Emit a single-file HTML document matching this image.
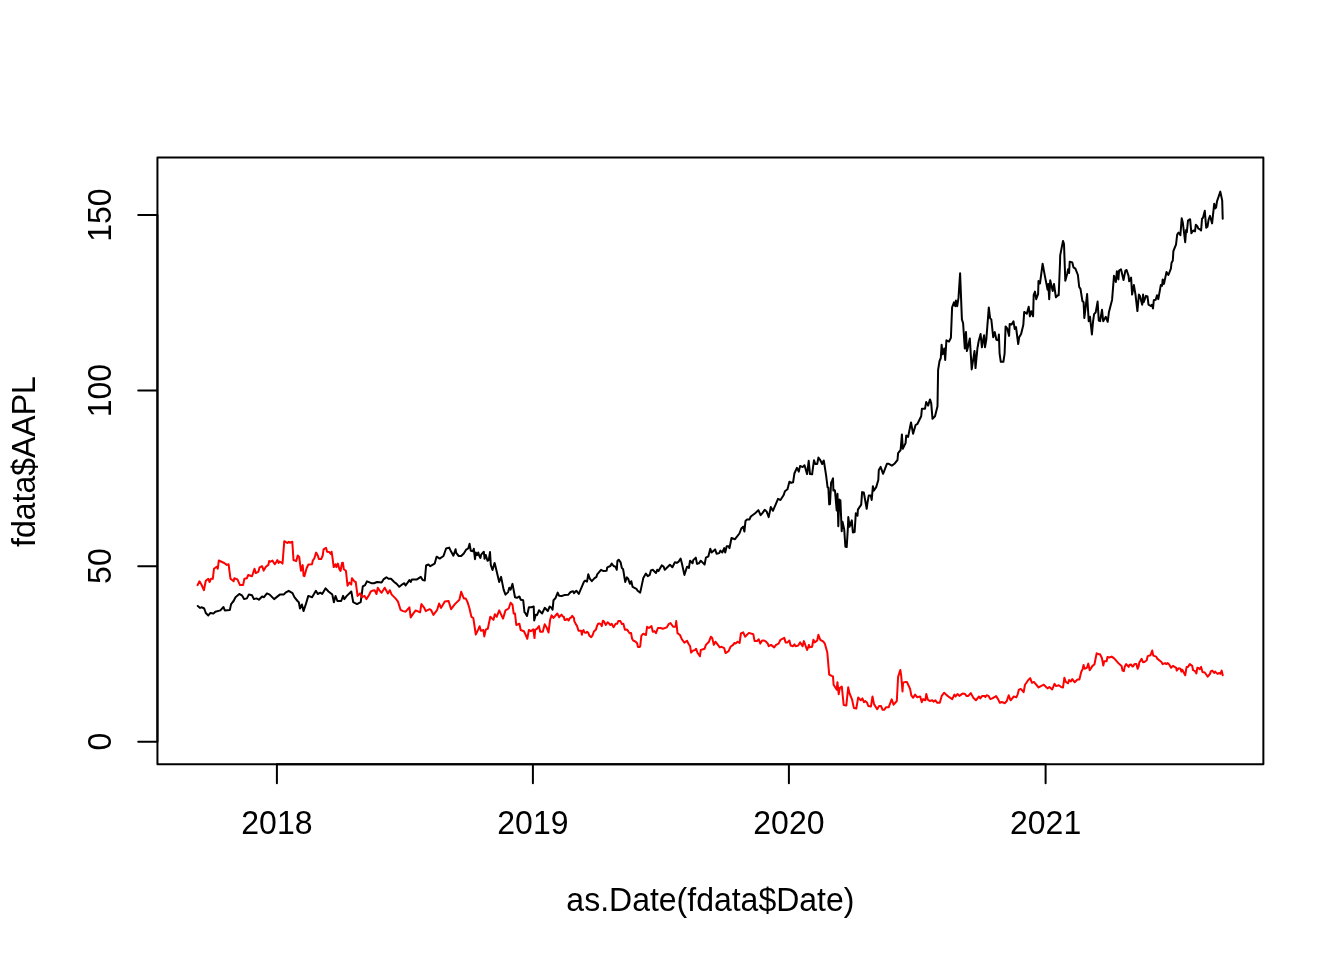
<!DOCTYPE html>
<html><head><meta charset="utf-8"><style>
html,body{margin:0;padding:0;background:#fff;}
svg{display:block;will-change:transform;}
text{font-family:"Liberation Sans",sans-serif;font-size:32px;fill:#000;}
</style></head><body>
<svg width="1344" height="960" viewBox="0 0 1344 960">
<rect x="0" y="0" width="1344" height="960" fill="#fff"/>
<g fill="none" stroke-linecap="round" stroke-linejoin="round" stroke-width="2">
<polyline stroke="#000" points="197.8,606.0 200.1,607.9 202.0,607.3 204.2,608.5 205.8,613.0 208.3,615.5 210.2,613.0 213.4,613.6 215.3,611.7 220.4,610.4 223.5,607.0 224.8,610.4 229.8,610.1 231.1,604.1 233.6,601.0 235.5,597.2 239.3,594.0 241.9,595.3 244.1,599.1 246.9,598.4 248.8,594.6 252.0,595.3 253.9,599.1 256.4,598.4 258.9,599.7 262.1,596.5 264.0,597.2 266.9,593.4 269.7,594.6 274.1,599.1 279.8,594.6 283.6,594.6 285.5,592.7 288.7,590.8 292.5,593.1 294.4,597.2 297.5,601.0 298.8,602.2 300.0,608.5 301.9,604.5 303.5,611.1 305.7,604.7 308.3,595.9 312.1,597.2 315.9,590.8 317.8,594.0 320.3,592.7 322.2,594.0 325.6,588.3 328.5,591.5 332.3,594.6 333.9,602.2 335.5,595.9 337.4,601.0 341.2,601.0 343.1,595.9 344.3,599.1 346.8,595.9 351.3,591.5 353.2,602.2 357.0,604.1 360.7,602.2 362.8,586.4 365.1,585.1 367.0,581.3 371.4,583.2 374.0,583.2 377.1,582.0 381.6,582.6 383.5,579.4 386.4,577.3 388.5,578.8 391.0,578.8 394.2,582.0 396.7,583.9 399.3,586.8 402.4,584.3 404.3,583.2 405.6,585.5 409.4,580.1 410.7,582.0 411.9,579.4 417.0,579.4 420.8,576.9 422.7,580.1 424.8,580.5 426.1,565.5 428.4,564.5 430.3,566.2 434.7,563.6 436.6,556.7 439.7,558.6 443.5,556.0 446.1,548.5 449.2,547.6 451.1,551.6 453.4,555.7 455.6,549.3 456.2,552.9 458.7,556.0 461.2,556.0 463.8,553.5 466.1,549.7 468.2,548.5 469.6,543.8 470.8,550.8 472.9,551.2 473.8,548.8 475.0,559.2 475.8,552.5 477.1,555.0 478.3,552.5 479.2,555.8 480.4,557.9 481.2,554.6 483.8,551.7 484.6,558.8 485.8,555.0 487.5,560.8 488.8,560.0 490.0,552.1 490.8,565.0 492.5,570.0 494.6,562.9 494.8,563.6 499.2,582.0 501.1,576.9 503.6,589.6 505.5,594.6 508.1,592.1 509.3,587.7 510.6,589.6 512.5,583.9 515.0,597.2 516.9,597.8 519.4,596.5 520.7,599.7 523.2,600.3 524.5,612.3 525.1,612.8 527.0,616.0 528.9,607.2 531.4,607.2 533.7,606.5 534.2,620.4 535.8,614.7 537.1,615.0 539.0,610.3 542.1,613.5 544.7,607.8 547.8,611.0 549.7,606.5 551.6,607.8 552.6,609.7 553.5,600.2 555.4,598.3 557.7,592.6 559.2,595.8 561.7,596.0 564.3,595.1 568.1,594.8 570.6,592.0 573.1,591.3 574.1,593.2 576.3,590.7 578.8,593.9 582.0,586.3 583.9,581.9 585.1,580.6 587.0,581.6 588.3,574.3 589.8,578.7 591.8,581.2 594.6,578.1 596.5,576.8 597.2,574.3 601.0,569.8 603.5,571.1 606.6,570.7 607.3,567.3 610.4,566.0 611.7,563.5 613.6,566.0 615.5,566.7 616.8,569.8 617.4,561.0 618.7,559.7 620.6,562.3 621.8,567.9 623.1,569.2 625.2,581.9 626.9,577.4 628.1,578.7 630.0,583.8 631.3,581.2 632.6,586.9 636.4,588.8 637.6,590.7 640.2,592.6 643.3,578.1 645.9,573.6 647.8,576.2 649.7,574.9 650.9,570.5 652.8,569.8 654.7,571.7 656.0,573.0 657.2,569.8 658.5,571.1 661.7,565.4 663.6,566.7 664.8,569.8 667.4,567.3 669.9,564.8 671.2,566.0 672.4,567.3 674.9,562.3 676.8,562.9 678.7,561.6 680.6,558.5 681.9,563.5 684.4,574.9 687.0,566.7 688.9,567.9 689.4,564.5 690.1,560.7 692.6,563.3 693.2,560.1 695.8,557.6 697.0,563.9 698.9,563.3 700.8,560.7 702.7,562.6 704.6,564.5 705.9,557.6 708.4,556.3 710.3,548.7 711.6,552.5 715.1,549.4 716.6,553.8 719.2,553.1 720.4,550.6 722.3,552.5 724.2,548.1 725.2,552.5 726.7,546.2 728.6,546.2 729.5,548.1 731.5,538.0 735.0,539.2 739.4,533.5 741.3,528.5 743.2,526.6 744.4,531.6 745.5,520.9 747.0,519.6 749.5,519.4 750.8,516.5 755.2,513.3 758.4,510.1 760.6,515.2 762.2,513.3 764.7,509.8 766.6,511.4 768.7,517.1 770.8,507.0 772.9,510.8 775.4,505.1 778.0,498.8 780.5,500.0 783.7,495.0 784.9,491.2 787.5,489.3 789.4,481.7 791.2,482.9 793.1,482.3 794.4,473.5 796.9,467.8 798.8,471.6 800.1,465.9 802.6,467.1 804.5,465.2 807.1,474.1 808.7,460.8 810.0,474.1 812.1,474.3 814.0,460.2 815.3,464.0 817.2,464.0 818.4,457.6 820.3,460.2 822.2,464.0 823.5,460.8 823.8,460.6 824.5,465.0 826.2,476.2 827.6,487.5 828.4,487.8 828.6,492.5 829.2,504.4 830.0,504.1 831.1,482.5 831.9,481.2 833.0,478.4 833.4,490.6 834.5,490.0 835.0,490.8 836.7,510.4 837.5,493.8 838.3,526.2 839.2,499.6 840.4,500.4 841.7,531.2 842.5,521.7 844.2,529.2 845.4,546.7 846.7,547.1 847.9,527.5 848.3,517.1 849.6,526.7 851.8,520.4 852.9,532.5 854.6,532.1 855.8,513.3 857.5,515.8 857.9,509.6 861.2,504.6 862.1,492.1 863.8,492.5 866.7,508.8 867.5,502.5 868.8,495.4 870.8,495.4 871.7,500.0 872.9,486.2 873.8,490.8 876.2,487.1 878.3,480.0 878.8,470.0 880.6,466.9 883.1,473.8 886.9,463.8 888.8,463.8 891.9,465.6 894.4,463.8 897.5,460.0 898.1,453.1 900.6,450.0 901.9,434.4 902.8,448.8 905.6,443.1 906.2,435.6 908.1,436.9 911.0,422.5 913.1,433.8 915.6,425.0 917.5,423.8 921.2,416.2 921.9,408.8 925.0,408.8 926.2,401.9 928.1,405.6 930.0,399.4 931.2,403.1 932.5,418.8 935.0,416.2 937.5,406.2 938.1,370.0 939.5,361.2 940.8,358.0 941.6,344.7 942.6,354.2 944.2,348.5 945.2,359.9 946.4,340.3 949.0,341.6 950.9,337.8 952.1,307.4 954.0,302.4 955.3,306.2 955.9,300.5 957.2,306.2 958.5,297.9 960.1,273.3 961.9,319.4 963.1,323.2 964.8,348.5 966.0,332.1 966.9,351.1 967.9,347.3 969.8,338.4 971.7,369.4 974.5,351.1 975.5,368.1 977.4,348.5 978.7,341.0 980.6,334.0 981.9,347.3 982.9,341.0 984.1,335.3 985.0,347.3 986.3,339.7 988.8,307.4 990.1,318.2 991.3,319.4 993.2,337.2 994.8,332.1 996.4,339.7 998.3,340.3 998.9,334.6 999.6,353.6 1000.8,361.8 1003.4,361.8 1004.6,353.6 1005.6,326.4 1007.2,328.3 1009.1,335.9 1009.7,323.9 1011.6,324.5 1013.5,321.3 1014.7,328.9 1016.0,327.0 1018.2,344.1 1019.2,337.2 1021.1,334.0 1023.3,325.1 1024.2,311.9 1026.8,313.8 1028.7,306.8 1029.9,316.3 1031.2,311.2 1033.1,316.3 1033.7,294.8 1035.0,291.6 1036.2,299.2 1038.1,294.2 1038.5,280.9 1040.0,283.4 1042.6,263.8 1045.1,277.1 1047.6,289.7 1048.3,284.0 1049.2,299.2 1050.2,280.2 1052.7,291.0 1054.0,284.0 1055.9,297.3 1058.4,294.8 1058.7,295.3 1060.0,263.0 1060.2,255.4 1063.0,240.9 1064.0,244.0 1065.3,280.7 1067.2,273.8 1068.1,269.3 1069.1,273.1 1069.7,261.7 1072.3,262.4 1073.5,267.4 1075.4,268.7 1077.9,275.0 1079.2,287.0 1080.5,288.9 1082.4,301.0 1083.6,302.2 1084.3,318.0 1085.5,308.5 1087.1,294.0 1088.7,321.2 1090.0,316.8 1091.9,334.5 1093.1,321.2 1094.1,314.2 1095.7,312.3 1097.6,301.6 1098.8,320.6 1100.1,321.2 1102.0,309.8 1103.2,321.2 1105.8,316.8 1107.7,321.8 1108.9,312.3 1112.1,299.7 1114.0,275.7 1115.9,282.0 1116.9,271.2 1118.4,279.4 1119.1,270.6 1121.0,269.3 1123.5,280.1 1125.4,270.6 1126.6,270.0 1128.5,275.7 1129.2,281.3 1131.1,277.6 1132.1,294.6 1133.9,285.1 1135.5,294.6 1137.4,311.1 1138.9,294.6 1139.9,295.9 1142.2,304.7 1143.1,294.6 1143.7,302.2 1146.0,295.9 1147.5,296.5 1148.5,304.7 1150.7,306.0 1151.9,304.7 1153.0,308.5 1153.8,300.3 1155.7,299.7 1157.0,295.3 1158.3,299.1 1160.8,285.1 1162.1,285.8 1162.7,279.4 1164.0,283.9 1166.5,271.9 1168.4,275.0 1170.9,268.7 1171.5,263.0 1172.8,260.5 1173.4,251.0 1176.0,244.7 1177.2,234.5 1178.5,232.6 1180.4,235.2 1181.7,218.3 1182.8,222.5 1185.2,242.2 1186.1,230.0 1186.8,232.3 1188.0,220.6 1190.1,219.2 1191.4,233.3 1193.1,230.5 1195.0,231.4 1195.8,224.8 1197.3,226.2 1198.3,228.6 1199.7,229.1 1201.1,230.5 1202.0,218.8 1203.0,217.8 1204.8,210.8 1206.2,227.7 1207.5,226.7 1208.6,219.7 1210.0,215.9 1212.1,223.4 1214.2,203.8 1215.2,208.4 1216.1,207.5 1217.0,201.4 1218.4,197.2 1220.3,191.6 1222.2,200.5 1222.7,218.8"/>
<polyline stroke="#ff0000" points="197.6,585.1 199.5,581.3 201.4,584.5 203.9,590.2 205.8,580.7 208.3,578.8 209.6,582.0 210.9,578.8 212.8,578.8 214.0,568.7 216.6,566.8 217.8,568.7 218.8,560.5 224.2,563.0 226.7,564.9 228.6,564.3 230.5,578.8 233.6,581.3 234.3,578.2 237.4,579.4 240.0,585.1 243.1,585.1 244.4,578.8 246.9,578.2 248.2,575.0 252.0,576.3 254.5,568.7 255.8,573.1 258.3,571.9 259.6,567.4 262.1,566.2 263.7,570.6 265.9,566.8 268.4,564.9 269.1,561.1 270.0,561.8 272.4,560.6 274.8,564.2 276.2,562.1 277.4,560.0 278.6,563.0 279.2,561.5 280.7,562.1 282.5,563.6 284.3,541.2 287.3,543.0 288.8,541.8 289.9,542.7 292.3,541.8 293.5,560.0 296.2,561.2 297.7,555.5 299.2,557.0 300.4,566.5 301.0,570.7 302.7,565.1 303.6,575.8 304.5,576.1 306.6,568.3 308.4,564.5 312.0,564.2 312.9,560.3 314.3,558.5 316.1,552.6 317.9,555.8 318.8,559.1 321.2,559.1 322.7,555.5 323.6,549.3 326.0,547.8 327.1,551.7 329.2,552.0 330.7,554.0 331.6,551.7 332.5,557.6 333.7,567.1 335.5,564.2 336.4,567.1 337.9,563.6 339.3,568.9 340.5,571.0 342.0,563.0 342.9,562.7 343.8,569.2 345.9,570.7 347.4,584.4 347.5,585.8 349.4,582.6 351.3,584.5 351.9,578.2 354.4,581.3 355.7,582.0 357.6,595.9 360.1,593.4 362.0,597.2 364.5,595.9 366.4,599.1 368.9,595.3 370.8,591.5 372.1,590.8 374.6,590.2 376.5,594.0 377.8,587.7 380.3,591.5 381.6,592.7 384.7,587.7 387.9,593.4 389.8,590.2 391.7,594.6 395.5,598.4 398.0,601.6 400.5,609.8 403.1,611.1 405.6,611.7 409.4,607.3 410.7,617.4 413.2,613.6 415.7,610.4 420.1,612.3 421.4,604.1 423.9,607.3 425.8,611.1 429.6,609.2 430.9,609.8 433.4,614.9 437.2,609.8 439.1,603.5 441.0,607.9 444.8,601.6 448.6,601.0 451.1,609.2 454.9,604.1 459.4,599.7 461.2,591.8 463.8,598.4 465.7,598.4 467.6,602.2 469.5,608.5 471.4,616.8 473.3,618.0 475.8,634.5 478.3,629.4 479.6,626.2 480.9,630.7 483.4,630.0 484.3,636.4 485.9,629.4 487.8,628.8 490.3,616.8 493.5,619.9 494.8,614.2 496.7,616.8 499.2,610.4 503.0,618.7 505.5,610.4 508.7,608.5 510.6,602.8 512.5,604.7 513.7,613.6 515.0,613.6 516.3,625.0 519.4,623.7 520.7,630.0 523.9,631.3 525.7,635.0 527.3,638.8 528.9,629.9 530.8,631.2 533.3,629.3 534.5,638.1 535.2,629.9 537.1,628.7 539.0,626.1 540.2,631.8 542.8,631.8 544.7,624.2 546.6,627.4 548.5,632.5 550.1,619.8 551.6,615.4 553.5,617.9 557.3,613.5 559.2,617.3 560.0,616.1 561.5,614.6 562.7,616.4 563.9,617.0 564.5,619.9 565.7,619.9 567.1,618.8 568.6,620.5 569.8,618.2 571.0,617.6 572.2,615.8 574.0,618.2 574.3,621.1 575.8,624.1 577.0,625.9 578.5,630.7 581.1,630.7 581.9,634.8 582.3,631.5 583.5,630.1 584.4,632.4 586.2,632.7 587.1,631.8 588.3,632.7 589.2,635.4 591.2,637.2 592.4,635.7 593.9,631.5 596.0,629.5 596.9,626.2 598.1,623.8 599.3,623.5 600.8,624.1 601.7,626.2 602.9,620.8 603.8,621.1 605.8,625.0 607.6,622.3 608.5,622.9 610.3,625.0 611.8,623.8 612.4,625.3 613.6,627.1 615.7,623.8 617.1,623.8 618.3,621.1 620.4,621.1 621.9,624.1 623.4,623.8 624.9,629.8 627.0,629.5 628.2,631.2 629.6,633.3 631.1,633.0 632.0,638.4 633.2,640.5 635.6,641.7 637.1,643.2 638.0,647.0 639.5,647.0 640.2,646.4 641.4,635.6 643.3,633.7 645.9,635.0 647.1,626.8 649.0,628.0 651.5,626.1 652.8,631.8 654.7,631.2 656.0,633.1 657.9,628.0 660.4,628.0 662.9,628.7 666.7,627.4 668.6,624.2 670.5,623.0 673.1,626.8 675.6,626.8 676.2,621.1 677.5,633.1 680.0,635.0 681.9,639.4 684.4,642.6 687.0,640.7 688.9,644.5 690.1,646.2 691.1,652.5 693.2,650.6 695.1,650.0 696.1,648.7 697.4,652.5 699.9,656.3 700.8,650.0 704.6,648.7 705.9,644.9 709.0,641.7 710.9,636.7 712.2,637.9 713.8,644.9 715.4,641.7 717.9,644.9 719.8,647.4 721.7,646.8 724.2,648.1 725.5,653.1 728.6,651.2 730.5,646.8 733.1,644.9 734.3,643.0 735.6,643.6 737.5,641.7 739.6,643.0 740.9,633.5 743.2,632.3 745.1,636.7 748.9,632.9 753.3,634.2 754.6,641.1 757.1,641.1 758.7,639.2 760.3,643.6 762.2,640.5 764.1,640.5 766.0,641.7 767.8,643.6 768.7,646.2 771.0,644.9 774.2,647.4 776.1,644.9 778.6,643.6 780.5,639.8 784.3,637.9 785.6,642.4 787.5,642.4 789.4,640.5 790.6,645.5 793.1,646.2 794.4,644.3 795.7,646.2 798.2,645.5 800.1,642.4 802.6,646.2 803.9,641.1 807.1,650.0 809.0,644.9 809.6,647.4 812.1,646.8 813.4,639.8 814.7,642.4 817.2,640.5 818.4,634.8 820.3,639.8 823.5,641.7 824.8,643.6 827.3,652.5 829.2,674.6 831.7,675.9 833.0,676.5 833.6,684.7 836.8,689.8 837.4,682.2 838.7,694.2 839.9,687.9 841.8,686.6 843.7,705.0 846.3,705.6 848.2,687.3 849.4,693.0 852.0,699.3 853.9,708.1 856.3,708.5 858.2,697.4 860.8,700.3 862.4,698.4 863.9,702.2 865.2,701.0 867.1,702.8 868.3,706.0 870.9,706.6 872.5,696.5 874.0,704.1 877.2,709.2 879.1,706.0 881.0,706.0 882.6,709.8 884.2,709.8 886.0,707.3 888.6,707.3 891.7,699.4 893.6,704.7 896.8,701.0 898.1,676.9 900.3,670.0 901.2,675.7 902.5,691.5 903.1,682.6 905.7,682.0 906.9,682.0 910.1,688.9 911.3,695.3 913.2,697.8 915.1,694.6 917.0,697.2 920.2,696.5 921.8,702.2 923.1,699.1 925.3,700.3 926.3,694.0 927.8,699.7 929.7,701.0 932.2,700.3 933.5,701.6 935.4,700.3 937.3,702.8 939.8,702.8 941.7,695.9 944.2,692.7 946.1,694.6 949.3,697.2 952.2,699.1 954.4,694.6 955.6,696.5 957.5,694.0 959.4,695.9 962.6,693.6 965.1,694.0 966.4,695.9 968.3,695.9 970.8,693.1 973.3,697.8 975.9,700.3 979.0,696.5 980.3,698.4 982.2,695.9 984.7,695.9 985.3,697.2 986.6,695.3 988.5,695.9 990.4,699.1 992.3,698.4 996.1,696.1 998.0,699.1 999.9,702.8 1001.8,702.0 1004.9,703.2 1006.8,701.0 1008.7,695.3 1010.6,700.3 1013.8,696.5 1016.3,697.2 1017.6,694.6 1018.9,689.6 1020.8,688.9 1023.6,692.2 1025.0,684.7 1028.3,680.0 1030.2,678.1 1032.0,682.8 1033.9,681.9 1038.6,687.5 1040.9,686.1 1043.8,684.7 1047.5,688.4 1049.4,687.0 1052.2,689.4 1054.5,683.8 1055.9,686.1 1058.8,685.2 1061.1,687.0 1063.0,687.5 1064.4,677.7 1065.8,681.9 1068.1,683.3 1069.1,680.0 1070.9,681.4 1072.3,679.1 1074.7,682.3 1077.5,679.5 1079.4,679.5 1081.2,672.0 1082.7,668.8 1083.6,665.0 1084.5,668.8 1086.9,667.8 1088.3,663.6 1089.7,670.2 1092.5,665.9 1094.4,664.5 1095.8,657.5 1096.7,653.3 1098.6,654.2 1100.0,654.2 1101.9,658.0 1103.3,665.5 1104.2,661.2 1106.6,661.2 1107.5,657.0 1109.4,657.5 1111.7,656.6 1114.1,658.4 1115.9,660.3 1118.8,663.6 1121.6,665.9 1122.5,670.6 1123.9,671.1 1124.8,666.4 1126.2,664.1 1128.6,666.9 1129.5,664.8 1129.8,665.0 1131.2,664.5 1132.2,666.4 1133.1,666.4 1134.5,664.1 1136.4,664.1 1137.6,668.8 1138.8,665.9 1139.2,662.7 1141.6,658.9 1143.0,662.2 1144.8,661.7 1146.7,660.3 1147.7,656.1 1150.5,655.2 1152.2,650.5 1153.3,655.6 1156.1,656.6 1157.5,658.9 1161.2,661.7 1162.7,664.1 1165.0,663.1 1166.4,664.1 1167.8,663.1 1169.2,664.5 1171.1,667.8 1173.0,665.9 1176.2,667.8 1176.7,670.6 1178.6,668.3 1180.5,668.8 1181.4,671.6 1182.3,669.7 1185.2,675.3 1186.6,666.9 1188.0,666.9 1189.8,664.1 1192.2,665.9 1193.1,670.2 1195.0,671.1 1196.4,673.4 1197.3,667.8 1198.8,668.3 1199.7,669.2 1201.1,666.9 1202.5,672.0 1204.8,672.5 1207.7,676.7 1210.0,673.9 1210.9,671.1 1212.3,670.6 1214.2,673.0 1215.2,671.6 1217.5,673.9 1219.4,673.0 1220.3,673.9 1221.7,670.6 1222.7,675.3"/>
<rect x="157.44" y="157.44" width="1105.92" height="606.72" stroke="#000"/>
<path stroke="#000" d="M157.44,741.69V215.03M157.44,741.69H138.24M157.44,566.13H138.24M157.44,390.58H138.24M157.44,215.03H138.24"/>
<path stroke="#000" d="M276.9,764.16H1045.6M276.9,764.16V783.36M532.9,764.16V783.36M788.9,764.16V783.36M1045.6,764.16V783.36"/>
</g>
<text transform="translate(111.0,741.69) rotate(-90) scale(1,1.05)" text-anchor="middle">0</text>
<text transform="translate(111.0,566.13) rotate(-90) scale(1,1.05)" text-anchor="middle">50</text>
<text transform="translate(111.0,390.58) rotate(-90) scale(1,1.05)" text-anchor="middle">100</text>
<text transform="translate(111.0,215.03) rotate(-90) scale(1,1.05)" text-anchor="middle">150</text>
<text transform="translate(276.9,833.8) scale(1,1.05)" text-anchor="middle">2018</text>
<text transform="translate(532.9,833.8) scale(1,1.05)" text-anchor="middle">2019</text>
<text transform="translate(788.9,833.8) scale(1,1.05)" text-anchor="middle">2020</text>
<text transform="translate(1045.6,833.8) scale(1,1.05)" text-anchor="middle">2021</text>
<text transform="translate(710.4,910.8) scale(1,1.05)" text-anchor="middle">as.Date(fdata$Date)</text>
<text transform="translate(34.6,461.6) rotate(-90) scale(1,1.05)" text-anchor="middle">fdata$AAPL</text>
</svg>
</body></html>
